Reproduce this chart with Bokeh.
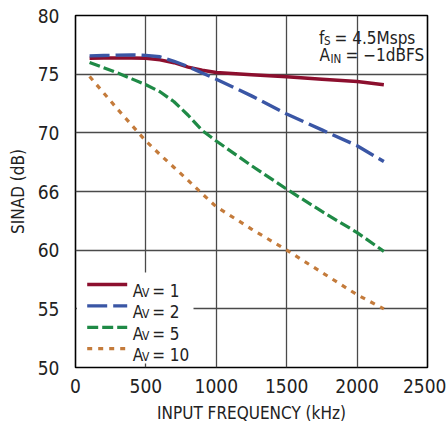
from bokeh.plotting import figure
from bokeh.models import Label, BoxAnnotation, FixedTicker, Range1d
from bokeh.embed import file_html
from bokeh.resources import INLINE

# ---- data ----
freq = [100, 200, 300, 400, 500, 600, 700, 800, 900, 1000, 1250, 1500, 1750, 2000, 2190]
sinad_av1 = [76.35, 76.37, 76.38, 76.37, 76.35, 76.22, 75.98, 75.6, 75.33, 75.15, 74.95, 74.77, 74.57, 74.37, 74.1]
sinad_av2 = [76.56, 76.59, 76.62, 76.64, 76.6, 76.48, 76.1, 75.65, 75.1, 74.57, 73.15, 71.6, 70.25, 68.9, 67.55]
sinad_av5 = [76.0, 75.55, 75.1, 74.6, 74.1, 73.5, 72.65, 71.5, 70.2, 69.3, 67.2, 65.2, 63.3, 61.5, 59.9]
sinad_av10 = [74.8, 73.4, 72.0, 70.65, 69.3, 68.15, 67.05, 65.95, 64.8, 63.7, 61.8, 60.0, 58.1, 56.2, 55.0]

series_gain = ["1", "2", "5", "10"]
x_ticks = [0, 500, 1000, 1500, 2000, 2500]
y_ticks = [50, 55, 60, 65, 70, 75, 80]
y_tick_labels = ["50", "55", "60", "66", "70", "75", "80"]

FONT = ("Liberation Sans Narrow, Arial Narrow, Nimbus Sans Narrow, Noto Sans Condensed, "
        "DejaVu Sans Condensed, Roboto, sans-serif")
COLORS = ["#8C0F2E", "#3A56A5", "#1F8A46", "#C47B3B"]
DASHES = ["solid", "20 6", "11 4", "5 6"]
WIDTHS = [3.5, 3.4, 3.2, 3.2]
TXT = "#222222"

X0, X1, Y0, Y1 = 0, 2500, 50, 80
# frame geometry in page pixels (used only to place annotations)
FL, FR, FT, FB = 75.0, 427.0, 15.0, 367.0


def dx(px):
    return X0 + (px - FL) * (X1 - X0) / (FR - FL)


def dy(py):
    return Y1 - (py - FT) * (Y1 - Y0) / (FB - FT)


p = figure(width=446, height=435, x_range=Range1d(X0, X1), y_range=Range1d(Y0, Y1),
           output_backend="svg", toolbar_location=None,
           min_border_left=75, min_border_right=19, min_border_top=15, min_border_bottom=68)
p.background_fill_color = "white"
p.border_fill_color = "white"
p.outline_line_color = "black"
p.outline_line_width = 1.6

p.xaxis.ticker = FixedTicker(ticks=x_ticks)
p.yaxis.ticker = FixedTicker(ticks=y_ticks)
p.yaxis.major_label_overrides = {t: s for t, s in zip(y_ticks, y_tick_labels)}
for ax in (p.xaxis, p.yaxis):
    ax.axis_line_color = None
    ax.major_tick_line_color = None
    ax.minor_tick_line_color = None
    ax.major_label_text_font = FONT
    ax.major_label_text_font_size = "19px"
    ax.major_label_text_color = TXT
    ax.axis_label_text_font = FONT
    ax.axis_label_text_font_size = "17px"
    ax.axis_label_text_font_style = "normal"
    ax.axis_label_text_color = TXT
p.xaxis.axis_label = "INPUT FREQUENCY (kHz)"
p.yaxis.axis_label = "SINAD (dB)"
p.xaxis.major_label_standoff = 5
p.yaxis.major_label_standoff = 10
p.xaxis.axis_label_standoff = 7
p.yaxis.axis_label_standoff = 7

p.xgrid.ticker = FixedTicker(ticks=[500, 1000, 1500, 2000])
p.ygrid.ticker = FixedTicker(ticks=[55, 60, 65, 70, 75])
for g in (p.xgrid, p.ygrid):
    g.grid_line_color = "#4a4a4a"
    g.grid_line_width = 1.3

# white legend background hiding the grid
p.add_layout(BoxAnnotation(left=dx(76.5), right=dx(193), bottom=dy(363), top=dy(272),
                           fill_color="white", fill_alpha=1.0, line_color=None, level="underlay"))

all_series = [sinad_av1, sinad_av2, sinad_av5, sinad_av10]
for i, ys in enumerate(all_series):
    p.line(freq, ys, line_color=COLORS[i], line_width=WIDTHS[i], line_dash=DASHES[i],
           line_cap="butt", line_join="round")

# manual legend with subscripts
for i, g in enumerate(series_gain):
    ly = 284.0 + 21.4 * i
    p.line([dx(86.7), dx(126.7)], [dy(ly), dy(ly)], line_color=COLORS[i], line_width=WIDTHS[i],
           line_dash=DASHES[i], line_cap="butt")
    base = ly + 6.2
    p.add_layout(Label(x=dx(132.3), y=dy(base), text="A", text_font=FONT, text_font_size="17px",
                       text_baseline="alphabetic", text_color=TXT))
    p.add_layout(Label(x=dx(141.5), y=dy(base + 2.0), text="V", text_font=FONT, text_font_size="12px",
                       text_baseline="alphabetic", text_color=TXT))
    p.add_layout(Label(x=dx(151.7), y=dy(base), text="= " + g, text_font=FONT, text_font_size="17px",
                       text_baseline="alphabetic", text_color=TXT))

# conditions annotation
p.add_layout(Label(x=dx(318.5), y=dy(37), text="f", text_font=FONT, text_font_size="17px",
                   text_baseline="alphabetic", text_color=TXT))
p.add_layout(Label(x=dx(323.5), y=dy(40.3), text="S", text_font=FONT, text_font_size="11.5px",
                   text_baseline="alphabetic", text_color=TXT))
p.add_layout(Label(x=dx(334), y=dy(37), text="= 4.5Msps", text_font=FONT, text_font_size="17px",
                   text_baseline="alphabetic", text_color=TXT))
p.add_layout(Label(x=dx(319), y=dy(54), text="A", text_font=FONT, text_font_size="17px",
                   text_baseline="alphabetic", text_color=TXT))
p.add_layout(Label(x=dx(330), y=dy(58), text="IN", text_font=FONT, text_font_size="11.5px",
                   text_baseline="alphabetic", text_color=TXT))
p.add_layout(Label(x=dx(345), y=dy(54), text="= \u22121dBFS", text_font=FONT, text_font_size="17px",
                   text_baseline="alphabetic", text_color=TXT))

# figure id
p.add_layout(Label(x=dx(427), y=dy(423), text="dn4gh F04", text_font=FONT, text_font_size="11px",
                   text_align="right", text_baseline="alphabetic", text_color=TXT))

open("out.html", "w").write(file_html(p, INLINE))
